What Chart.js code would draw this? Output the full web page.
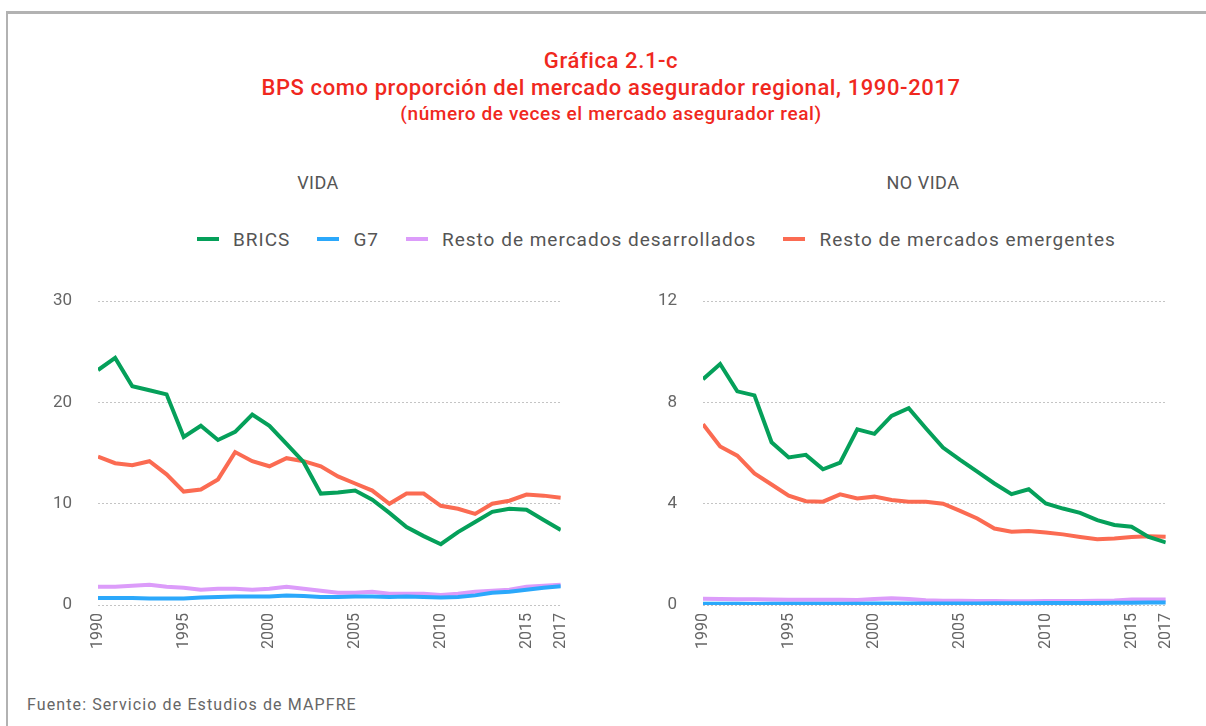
<!DOCTYPE html>
<html>
<head>
<meta charset="utf-8">
<script src="https://cdn.jsdelivr.net/npm/chart.js@4"></script>
<style>
  html, body { margin: 0; padding: 0; background: #fff; overflow: hidden; }
  body { width: 1206px; height: 726px; position: relative; font-family: Roboto, "Noto Sans", sans-serif; }
  .marco { position: absolute; left: 6px; top: 11px; width: 1300px; height: 800px;
           border-top: 3px solid #b2b2b2; border-left: 2px solid #b2b2b2; }
  .titulo { position: absolute; left: 0; width: 1222px; text-align: center; color: #f0281e; font-weight: 500; }
  .sub { position: absolute; top: 172px; color: #555; font-size: 18px; text-align: center; width: 300px; letter-spacing: 0.5px; }
  .leyenda { position: absolute; top: 226px; left: 197px; height: 26px; display: flex; align-items: center;
             font-size: 19px; letter-spacing: 1px; color: #555; white-space: nowrap; }
  .leyenda span.m { display: inline-block; width: 22px; height: 4px; margin-right: 14px; }
  .leyenda span.t { margin-right: 27px; }
  canvas { position: absolute; }
  .fuente { position: absolute; left: 27px; top: 695px; font-size: 16px; letter-spacing: 1.1px; color: #666; }
</style>
</head>
<body>
<div class="marco"></div>
<div class="titulo" style="top:48px;font-size:22px;letter-spacing:0.6px;">Gráfica 2.1-c</div>
<div class="titulo" style="top:75px;font-size:22px;letter-spacing:0.6px;">BPS como proporción del mercado asegurador regional, 1990-2017</div>
<div class="titulo" style="top:102px;font-size:19px;letter-spacing:0.6px;">(número de veces el mercado asegurador real)</div>
<div class="sub" style="left:168px;">VIDA</div>
<div class="sub" style="left:773px;">NO VIDA</div>
<div class="leyenda" id="leyenda"></div>

<canvas id="vida" width="548" height="390" style="left:40px;top:265px;width:548px;height:390px;"></canvas>
<canvas id="novida" width="548" height="390" style="left:645px;top:265px;width:548px;height:390px;"></canvas>

<div class="fuente">Fuente: Servicio de Estudios de MAPFRE</div>

<script>
// años
const anios = [1990, 1991, 1992, 1993, 1994, 1995, 1996, 1997, 1998, 1999,
               2000, 2001, 2002, 2003, 2004, 2005, 2006, 2007, 2008, 2009,
               2010, 2011, 2012, 2013, 2014, 2015, 2016, 2017];
const aniosEtiquetas = [1990, 1995, 2000, 2005, 2010, 2015, 2017];

const series = ["BRICS", "G7", "Resto de mercados desarrollados", "Resto de mercados emergentes"];
const colores = ["#05a05a", "#2ba8fb", "#dc9cfa", "#fb6b52"];

// VIDA
const vidaBrics = [23.2, 24.4, 21.6, 21.2, 20.8, 16.6, 17.7, 16.3, 17.1, 18.8,
                   17.7, 15.9, 14.1, 11.0, 11.1, 11.3, 10.4, 9.1, 7.7, 6.8,
                   6.0, 7.2, 8.2, 9.2, 9.5, 9.4, 8.4, 7.4];
const vidaG7 = [0.7, 0.7, 0.7, 0.65, 0.65, 0.65, 0.75, 0.8, 0.85, 0.85,
                0.85, 0.95, 0.9, 0.8, 0.8, 0.85, 0.85, 0.8, 0.85, 0.8,
                0.75, 0.8, 0.95, 1.2, 1.3, 1.5, 1.7, 1.85];
const vidaDesarrollados = [1.8, 1.8, 1.9, 2.0, 1.8, 1.7, 1.5, 1.6, 1.6, 1.5,
                           1.6, 1.8, 1.6, 1.4, 1.2, 1.2, 1.3, 1.1, 1.1, 1.1,
                           1.0, 1.1, 1.3, 1.4, 1.5, 1.8, 1.9, 2.0];
const vidaEmergentes = [14.65, 14.0, 13.8, 14.2, 12.9, 11.2, 11.4, 12.4, 15.1, 14.2,
                        13.7, 14.5, 14.2, 13.7, 12.7, 12.0, 11.3, 10.0, 11.0, 11.0,
                        9.8, 9.5, 9.0, 10.0, 10.3, 10.9, 10.8, 10.6];

// NO VIDA
const noVidaBrics = [8.92, 9.52, 8.44, 8.28, 6.43, 5.83, 5.93, 5.36, 5.62, 6.94,
                     6.76, 7.47, 7.77, 6.98, 6.22, 5.73, 5.27, 4.8, 4.38, 4.57,
                     4.01, 3.81, 3.64, 3.35, 3.16, 3.09, 2.69, 2.47];
const noVidaG7 = [0.05, 0.05, 0.05, 0.04, 0.05, 0.05, 0.05, 0.05, 0.05, 0.05,
                  0.06, 0.06, 0.06, 0.06, 0.06, 0.06, 0.06, 0.07, 0.07, 0.07,
                  0.08, 0.08, 0.08, 0.08, 0.09, 0.09, 0.1, 0.1];
const noVidaDesarrollados = [0.25, 0.24, 0.23, 0.23, 0.22, 0.21, 0.21, 0.21, 0.21, 0.2,
                             0.24, 0.27, 0.24, 0.19, 0.17, 0.17, 0.16, 0.16, 0.15, 0.15,
                             0.16, 0.16, 0.16, 0.17, 0.18, 0.22, 0.22, 0.22];
const noVidaEmergentes = [7.14, 6.26, 5.9, 5.2, 4.76, 4.32, 4.1, 4.08, 4.37, 4.21,
                          4.28, 4.15, 4.08, 4.08, 4.0, 3.72, 3.42, 3.02, 2.89, 2.92,
                          2.86, 2.79, 2.69, 2.6, 2.63, 2.69, 2.72, 2.7];

const vidaTicks = [0, 10, 20, 30];
const noVidaTicks = [0, 4, 8, 12];

// leyenda comun
const leyenda = document.getElementById("leyenda");
for (let i = 0; i < series.length; i++) {
    leyenda.innerHTML += `<span class="m" style="background:${colores[i]}"></span><span class="t">${series[i]}</span>`;
}

function puntos(valores) {
    return anios.map((a, i) => ({ x: a, y: valores[i] }));
}

function grafica(id, datos, ticksY) {
    const datasets = datos.map((valores, i) => ({
        label: series[i],
        data: puntos(valores),
        borderColor: colores[i],
        backgroundColor: colores[i],
        borderWidth: 4,
        pointRadius: 0,
        tension: 0,
        order: [2, 1, 3, 4][i]
    }));

    return new Chart(document.getElementById(id), {
        type: "line",
        data: { datasets: datasets },
        options: {
            responsive: false,
            animation: false,
            layout: { padding: { top: 0, right: 0, left: 0, bottom: 0 } },
            plugins: { legend: { display: false }, tooltip: { enabled: false } },
            scales: {
                x: {
                    type: "linear",
                    min: 1990,
                    max: 2017,
                    afterBuildTicks: (scale) => { scale.ticks = aniosEtiquetas.map(v => ({ value: v })); },
                    afterFit: (scale) => { scale.height = 50; },
                    grid: { display: false, drawTicks: false },
                    border: { display: false },
                    ticks: {
                        minRotation: 90,
                        maxRotation: 90,
                        padding: 8,
                        color: "#666",
                        font: { family: "Roboto", size: 16 },
                        callback: (v) => String(v)
                    }
                },
                y: {
                    min: ticksY[0],
                    max: ticksY[ticksY.length - 1],
                    afterBuildTicks: (scale) => { scale.ticks = ticksY.map(v => ({ value: v })); },
                    afterFit: (scale) => { scale.width = 58; },
                    grid: { color: "#c4c4c4", lineWidth: 1, drawTicks: false },
                    border: { display: false, dash: [2, 2] },
                    ticks: {
                        padding: 26,
                        color: "#666",
                        font: { family: "Roboto", size: 17 }
                    }
                }
            }
        }
    });
}

grafica("vida", [vidaBrics, vidaG7, vidaDesarrollados, vidaEmergentes], vidaTicks);
grafica("novida", [noVidaBrics, noVidaG7, noVidaDesarrollados, noVidaEmergentes], noVidaTicks);
</script>
</body>
</html>
